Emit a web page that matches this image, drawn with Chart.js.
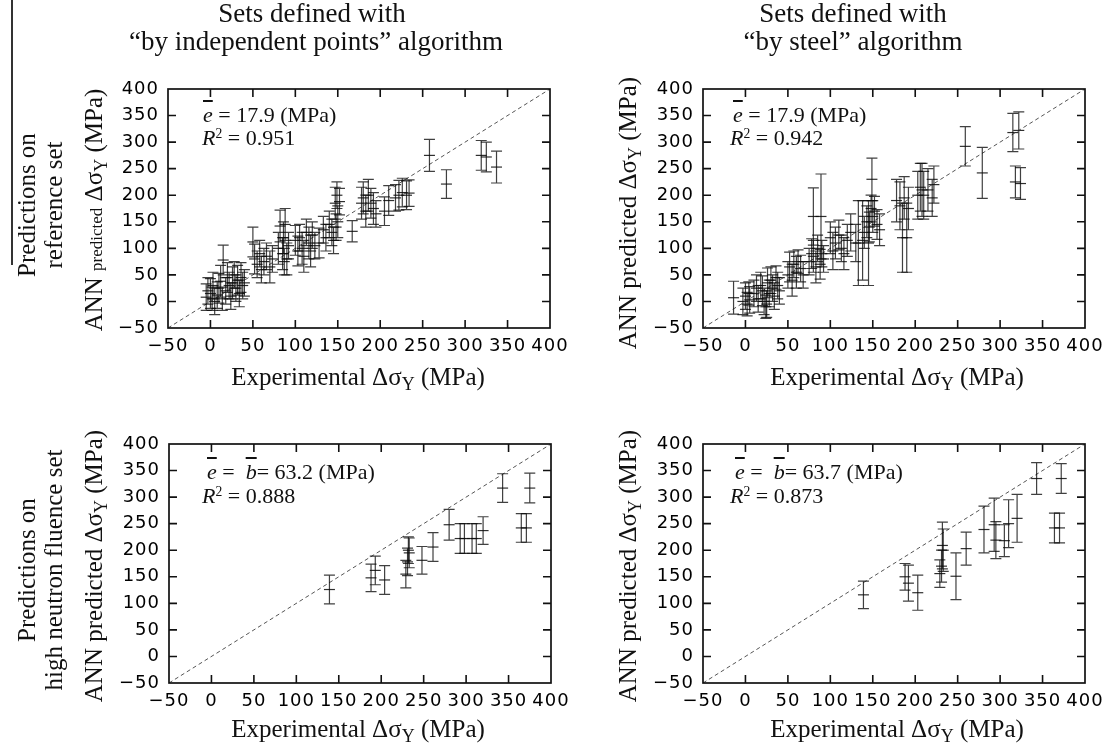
<!DOCTYPE html>
<html><head><meta charset="utf-8">
<script src="https://cdn.jsdelivr.net/npm/chart.js@4.4.1/dist/chart.umd.min.js"></script>
<style>
html,body{margin:0;padding:0;background:#fff}
body{width:1115px;height:753px;overflow:hidden;position:relative;font-family:"Liberation Serif","Times New Roman",serif;color:#111}
canvas{position:absolute;left:0;top:0}
.t{position:absolute;white-space:nowrap;line-height:1}
.rot{transform:translate(-50%,-50%) rotate(-90deg)}
.c{transform:translate(-50%,0);text-align:center}
.sub{font-size:0.72em;position:relative;top:0.3em}
.sup{font-size:0.62em;position:relative;top:-0.55em}
.ob{text-decoration:overline;font-style:italic}
.i{font-style:italic}
.ann{font-size:22px}
.ax{font-size:25px}
.hd{font-size:27px;line-height:28px}
.rl{font-size:25px;line-height:27px;text-align:center}
</style>
</head><body>
<canvas id="c1" width="1115" height="753"></canvas>
<canvas id="c2" width="1115" height="753"></canvas>
<canvas id="c3" width="1115" height="753"></canvas>
<canvas id="c4" width="1115" height="753"></canvas>

<div class="t" style="left:11px;top:0;width:1.5px;height:265px;background:#333"></div>
<div class="t hd c" style="left:312px;top:-1px">Sets defined with</div>
<div class="t hd c" style="left:316px;top:27px">“by independent points” algorithm</div>
<div class="t hd c" style="left:853px;top:-1px">Sets defined with<br>“by steel” algorithm</div>
<div class="t rl rot" style="left:40px;top:205px">Predictions on<br>reference set</div>
<div class="t rl rot" style="left:40px;top:570px">Predictions on<br>high neutron fluence set</div>

<div class="t ax rot" style="left:93px;top:210px">ANN <span style="font-size:17px">predicted</span> Δσ<span class="sub">Y</span> (MPa)</div>
<div class="t ax rot" style="left:627px;top:213px">ANN predicted Δσ<span class="sub">Y</span> (MPa)</div>
<div class="t ax rot" style="left:93px;top:566px">ANN predicted Δσ<span class="sub">Y</span> (MPa)</div>
<div class="t ax rot" style="left:627px;top:566px">ANN predicted Δσ<span class="sub">Y</span> (MPa)</div>

<div class="t ax c" style="left:358px;top:364px">Experimental Δσ<span class="sub">Y</span> (MPa)</div>
<div class="t ax c" style="left:897px;top:364px">Experimental Δσ<span class="sub">Y</span> (MPa)</div>
<div class="t ax c" style="left:358px;top:716px">Experimental Δσ<span class="sub">Y</span> (MPa)</div>
<div class="t ax c" style="left:897px;top:716px">Experimental Δσ<span class="sub">Y</span> (MPa)</div>

<div class="t ann" style="left:203px;top:104px"><span class="ob">e</span> = 17.9 (MPa)</div>
<div class="t ann" style="left:202px;top:127px"><span class="i">R</span><span class="sup">2</span> = 0.951</div>
<div class="t ann" style="left:733px;top:104px"><span class="ob">e</span> = 17.9 (MPa)</div>
<div class="t ann" style="left:730px;top:127px"><span class="i">R</span><span class="sup">2</span> = 0.942</div>
<div class="t ann" style="left:207px;top:461px"><span class="ob">e</span> = &nbsp;<span class="ob">b</span>= 63.2 (MPa)</div>
<div class="t ann" style="left:202px;top:485px"><span class="i">R</span><span class="sup">2</span> = 0.888</div>
<div class="t ann" style="left:735px;top:461px"><span class="ob">e</span> = &nbsp;<span class="ob">b</span>= 63.7 (MPa)</div>
<div class="t ann" style="left:730px;top:485px"><span class="i">R</span><span class="sup">2</span> = 0.873</div>

<script>
// ---- data ----
const tickValues = [-50, 0, 50, 100, 150, 200, 250, 300, 350, 400];
const diagX = [-50, 400];
const diagY = [-50, 400];

// Panel 1: reference set, "by independent points"
const p1x = [-5,-3,0,2,3,5,8,10,12,14,15,18,20,22,24,26,28,30,32,34,36,38,40,
  50,52,55,58,60,63,66,70,73,
  80,82,85,87,88,90,92,86,
  100,103,105,108,110,113,116,118,120,123,
  128,133,136,140,143,145,148,150,147,152,149,
  167,178,180,183,186,189,192,195,
  205,210,218,222,226,231,234,
  258,278,319,325,337];
const p1y = [8,20,15,5,30,0,12,25,38,5,78,20,45,30,10,35,50,25,40,15,45,30,35,
  112,80,70,90,60,75,85,65,80,
  100,142,90,75,145,80,105,120,
  115,95,120,100,85,130,110,95,125,105,
  110,135,120,145,130,115,140,150,185,188,200,
  132,185,195,170,200,185,175,165,
  170,190,195,200,205,200,204,
  275,221,275,272,253];
const p1e = [25,25,28,22,25,25,25,28,30,22,28,25,28,25,25,30,25,25,28,25,28,25,25,
  28,28,25,25,25,25,25,30,25,
  30,30,30,25,30,30,25,30,
  28,28,25,30,30,25,30,30,25,25,
  28,25,25,25,25,25,25,30,30,25,25,
  20,30,30,30,30,28,30,25,
  27,28,25,28,27,27,25,
  30,27,28,28,30];

// Panel 2: reference set, "by steel"
const p2x = [-14,-3,0,2,4,5,
  10,13,15,18,20,22,24,26,28,30,32,34,36,38,40,25,
  50,52,55,57,60,62,65,68,
  75,78,80,83,85,88,90,92,80,89,
  100,103,106,110,113,116,120,124,
  130,133,138,140,143,146,148,150,152,149,155,158,145,
  178,182,185,187,190,192,
  203,206,208,210,215,220,222,
  259,279,315,322,318,324];
const p2y = [7,0,10,-5,15,3,
  15,25,5,30,20,0,-10,35,15,40,25,10,45,30,20,-5,
  50,65,40,70,55,75,62,50,
  75,90,85,65,100,70,90,80,160,160,
  120,95,110,125,100,90,115,130,
  110,110,115,130,150,140,175,160,170,230,145,135,110,
  190,180,120,195,120,175,
  200,215,210,200,210,195,220,
  292,242,318,322,225,222];
const p2e = [31,25,25,22,22,25,
  25,25,25,25,28,25,22,28,25,25,25,25,22,25,25,25,
  25,28,30,25,30,22,25,25,
  25,28,30,30,25,28,25,25,54,80,
  30,35,30,28,25,30,30,35,
  35,80,75,30,30,28,25,30,28,40,28,30,80,
  40,45,65,40,65,40,
  45,45,50,45,40,35,35,
  37,48,36,35,30,30];

// Panel 3: high fluence set, "by independent points"
const p3x = [139,188,193,204,229,231,232,233,248,261,280,293,298,307,312,320,343,375,365,371];
const p3y = [126,148,162,144,155,178,200,195,181,206,248,222,222,222,222,237,317,317,242,242];
const p3e = [27,26,27,27,26,26,25,28,26,27,29,28,28,28,28,26,27,28,27,27];

// Panel 4: high fluence set, "by steel"
const p4x = [139,188,192,203,229,231,232,233,248,260,281,293,295,305,310,320,343,372,364,370];
const p4y = [116,150,138,120,156,170,209,200,151,203,239,248,219,218,250,260,335,335,242,242];
const p4e = [26,25,34,33,26,30,44,40,44,31,44,50,35,30,45,45,30,28,28,28];

// ---- rendering ----
const fmt = v => (v < 0 ? '\u2212' + Math.abs(v) : String(v));

const spacing = {
  id: 'spacing',
  beforeDraw(chart) { chart.ctx.letterSpacing = '1px'; }
};

const frame = {
  id: 'frame',
  afterDraw(chart) {
    const {ctx, chartArea: a, scales: {x, y}} = chart;
    ctx.save();
    ctx.strokeStyle = '#111';
    ctx.lineWidth = 1.7;
    ctx.strokeRect(a.left, a.top, a.right - a.left, a.bottom - a.top);
    ctx.lineWidth = 1.6;
    ctx.beginPath();
    const L = 8;
    tickValues.forEach(v => {
      if (v === -50 || v === 400) return;
      const px = x.getPixelForValue(v);
      ctx.moveTo(px, a.top); ctx.lineTo(px, a.top + L);
      ctx.moveTo(px, a.bottom); ctx.lineTo(px, a.bottom - L);
      const py = y.getPixelForValue(v);
      ctx.moveTo(a.left, py); ctx.lineTo(a.left + L, py);
      ctx.moveTo(a.right, py); ctx.lineTo(a.right - L, py);
    });
    ctx.stroke();
    ctx.restore();
  }
};

const errBars = {
  id: 'errBars',
  afterDatasetsDraw(chart) {
    const {ctx, scales: {x, y}} = chart;
    chart.data.datasets.forEach(ds => {
      if (!ds.err) return;
      ctx.save();
      ctx.strokeStyle = 'rgba(10,10,10,0.78)';
      ctx.lineWidth = 1.2;
      ds.data.forEach((p, i) => {
        const px = x.getPixelForValue(p.x);
        const t = y.getPixelForValue(p.y + ds.err[i]);
        const b = y.getPixelForValue(p.y - ds.err[i]);
        ctx.beginPath();
        ctx.moveTo(px, t); ctx.lineTo(px, b);
        ctx.moveTo(px - 5.5, t); ctx.lineTo(px + 5.5, t);
        ctx.moveTo(px - 5.5, b); ctx.lineTo(px + 5.5, b);
        ctx.stroke();
      });
      ctx.restore();
    });
  }
};

const W = 1115, H = 753, YW = 60, XH = 30;
const tickFont = {family: 'DejaVu Sans', size: 18};

function makePanel(id, area, xs, ys, es) {
  const pts = xs.map((v, i) => ({x: v, y: ys[i]}));
  const diag = diagX.map((v, i) => ({x: v, y: diagY[i]}));
  new Chart(document.getElementById(id), {
    type: 'scatter',
    data: {
      datasets: [
        {type: 'line', data: diag, borderColor: '#555', borderWidth: 1,
         borderDash: [4, 3], pointRadius: 0, fill: false},
        {data: pts, err: es, pointStyle: 'line', pointRadius: 5.5,
         borderColor: 'rgba(10,10,10,0.85)', borderWidth: 1.2, backgroundColor: 'transparent'}
      ]
    },
    options: {
      responsive: false, animation: false, events: [],
      layout: {padding: {left: area.l - YW, top: area.t, right: W - area.r, bottom: H - area.b - XH}},
      plugins: {legend: {display: false}, tooltip: {enabled: false}},
      scales: {
        x: {
          type: 'linear', min: -50, max: 400,
          grid: {display: false, drawTicks: false}, border: {display: false},
          ticks: {stepSize: 50, autoSkip: false, maxRotation: 0, minRotation: 0,
                  padding: 8, font: tickFont, color: '#000', callback: fmt},
          afterFit(s) { s.height = XH; s.paddingLeft = 0; s.paddingRight = 0; }
        },
        y: {
          type: 'linear', min: -50, max: 400,
          grid: {display: false, drawTicks: false}, border: {display: false},
          ticks: {stepSize: 50, autoSkip: false, padding: 9, font: tickFont, color: '#000', callback: fmt},
          afterFit(s) { s.width = YW; s.paddingTop = 0; s.paddingBottom = 0; }
        }
      }
    },
    plugins: [spacing, errBars, frame]
  });
}

makePanel('c1', {l: 168, r: 550, t: 89, b: 328}, p1x, p1y, p1e);
makePanel('c2', {l: 703, r: 1085, t: 89, b: 328}, p2x, p2y, p2e);
makePanel('c3', {l: 169, r: 551, t: 444, b: 683}, p3x, p3y, p3e);
makePanel('c4', {l: 703, r: 1085, t: 444, b: 683}, p4x, p4y, p4e);
</script>
</body></html>
